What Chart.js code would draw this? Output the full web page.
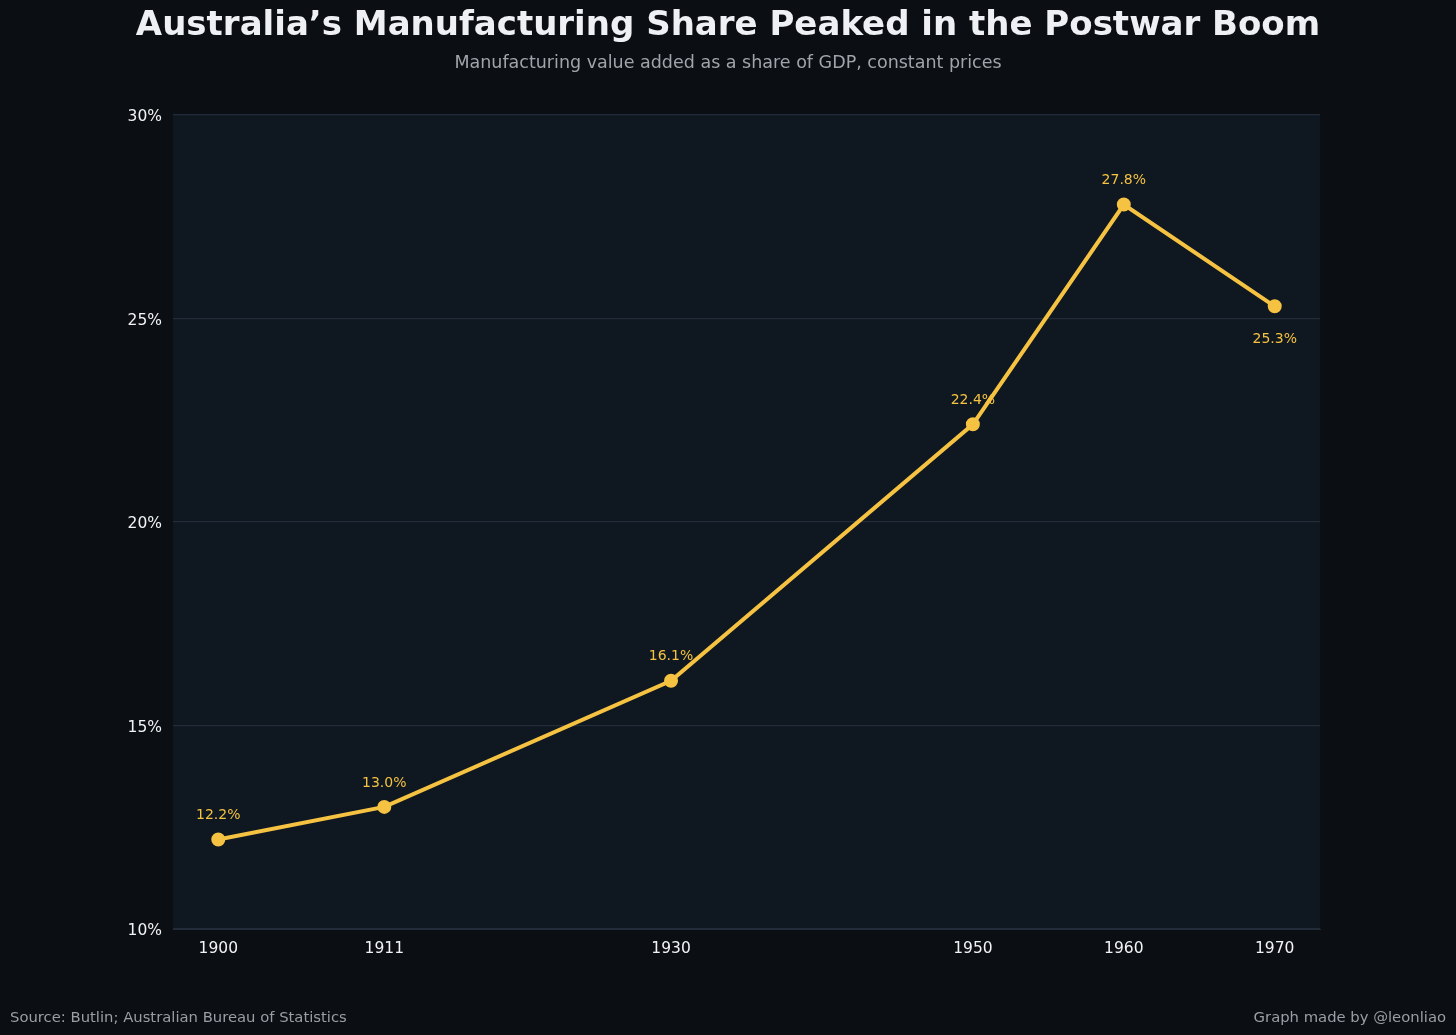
<!DOCTYPE html>
<html>
<head>
<meta charset="utf-8">
<script src="https://cdn.jsdelivr.net/npm/chart.js@4"></script>
<style>
html,body{margin:0;padding:0;background:#0b0e12;}
#wrap{width:1456px;height:1035px;position:relative;}
</style>
</head>
<body>
<div id="wrap"><canvas id="c"></canvas></div>
<script>
const years = [1900, 1911, 1930, 1950, 1960, 1970];
const share = [12.2, 13.0, 16.1, 22.4, 27.8, 25.3];
const labelPos = ['above','above','above','above','above','below'];
const yTicks = [10, 15, 20, 25, 30];

const FONT = "'DejaVu Sans', sans-serif";

const decor = {
  id: 'decor',
  beforeDraw(chart) {
    const {ctx, chartArea: a} = chart;
    ctx.save();
    ctx.fillStyle = '#0b0e12';
    ctx.fillRect(0, 0, chart.width, chart.height);
    ctx.fillStyle = '#0f1720';
    ctx.fillRect(a.left, a.top, a.right - a.left, a.bottom - a.top);
    ctx.restore();
  },
  afterDraw(chart) {
    const {ctx} = chart;
    ctx.save();
    ctx.textAlign = 'center';
    ctx.textBaseline = 'middle';
    ctx.fillStyle = '#eef0f3';
    ctx.font = "bold 34px " + FONT;
    ctx.fillText('Australia\u2019s Manufacturing Share Peaked in the Postwar Boom', 728, 26);
    ctx.fillStyle = '#a0a5ab';
    ctx.font = "17.5px " + FONT;
    ctx.fillText('Manufacturing value added as a share of GDP, constant prices', 728, 63);
    ctx.font = "14.8px " + FONT;
    ctx.fillStyle = '#9a9fa5';
    ctx.textAlign = 'left';
    ctx.fillText('Source: Butlin; Australian Bureau of Statistics', 10, 1018);
    ctx.textAlign = 'right';
    ctx.fillText('Graph made by @leonliao', 1446, 1018);
    // data labels
    const meta = chart.getDatasetMeta(0);
    ctx.textAlign = 'center';
    ctx.fillStyle = '#f5c242';
    ctx.font = "14px " + FONT;
    meta.data.forEach((pt, i) => {
      const dy = labelPos[i] === 'below' ? 33 : -24;
      ctx.fillText(share[i].toFixed(1) + '%', pt.x, pt.y + dy);
    });
    ctx.restore();
  }
};

new Chart(document.getElementById('c'), {
  type: 'line',
  data: {
    datasets: [{
      data: years.map((y, i) => ({x: y, y: share[i]})),
      borderColor: '#f5c242',
      backgroundColor: '#f5c242',
      borderWidth: 4,
      pointRadius: 5,
      pointHoverRadius: 5,
      pointBackgroundColor: '#f5c242',
      pointBorderColor: '#f5c242',
      tension: 0
    }]
  },
  options: {
    responsive: true,
    maintainAspectRatio: false,
    animation: false,
    devicePixelRatio: 1,
    layout: {padding: {top: 115, left: 0, right: 136, bottom: 0}},
    plugins: {legend: {display: false}, tooltip: {enabled: false}},
    scales: {
      x: {
        type: 'linear',
        min: 1897,
        max: 1973,
        afterBuildTicks(s) { s.ticks = years.map(v => ({value: v})); },
        afterFit(s) { s.height = 106; },
        grid: {display: false, drawTicks: false},
        border: {display: true, color: '#222d39', width: 1},
        ticks: {
          color: '#f2f3f5',
          font: {family: FONT, size: 15.5},
          padding: 11,
          maxRotation: 0,
          autoSkip: false,
          callback: v => String(v)
        }
      },
      y: {
        min: 10,
        max: 30,
        afterBuildTicks(s) { s.ticks = yTicks.map(v => ({value: v})); },
        afterFit(s) { s.width = 173; },
        grid: {color: '#222d39', lineWidth: 1.2, drawTicks: false},
        border: {display: false},
        ticks: {
          color: '#f2f3f5',
          font: {family: FONT, size: 15.5},
          padding: 11,
          labelOffset: 2,
          callback: v => v + '%'
        }
      }
    }
  },
  plugins: [decor]
});
</script>
</body>
</html>
